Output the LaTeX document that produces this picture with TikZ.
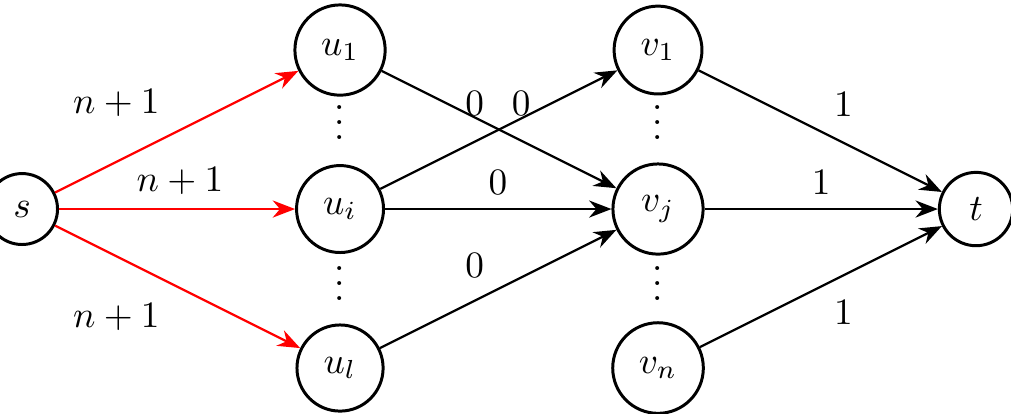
\documentclass[tikz,border=0pt]{standalone}
\usetikzlibrary{arrows.meta}
\begin{document}
\begin{tikzpicture}[
  vtx/.style={circle,draw,thick,inner sep=4.5pt},
  arc/.style={semithick,-{Stealth[length=6pt,width=4.6pt]}},
  redarc/.style={arc,red},
  lbl/.style={inner sep=0pt},
  dots/.style={inner sep=0pt}
]
\useasboundingbox (-0.208,-1.925) rectangle (9.33,1.972);
\node[vtx] (s) at (0,0) {$s$};
\node[vtx] (u1) at (3,1.5) {$u_1$};
\node[vtx] (ui) at (3,0) {$u_i$};
\node[vtx] (ul) at (3,-1.5) {$u_l$};
\node[vtx] (v1) at (6,1.5) {$v_1$};
\node[vtx] (vj) at (6,0) {$v_j$};
\node[vtx] (vn) at (6,-1.5) {$v_n$};
\node[vtx] (t) at (9,0) {$t$};
\node[dots] (d1) at (3,0.92) {$\vdots$};
\node[dots] (d2) at (3,-0.6) {$\vdots$};
\node[dots] (d3) at (6,0.92) {$\vdots$};
\node[dots] (d4) at (6,-0.6) {$\vdots$};
\draw[redarc] (s) -- (u1);
\draw[redarc] (s) -- (ui);
\draw[redarc] (s) -- (ul);
\draw[arc] (u1) -- (vj);
\draw[arc] (ui) -- (v1);
\draw[arc] (ui) -- (vj);
\draw[arc] (ul) -- (vj);
\draw[arc] (v1) -- (t);
\draw[arc] (vj) -- (t);
\draw[arc] (vn) -- (t);
\node[lbl] (a1) at (0.89,1.0) {$n+1$};
\node[lbl] (a2) at (1.49,0.26) {$n+1$};
\node[lbl] (a3) at (0.89,-1.02) {$n+1$};
\node[lbl] (b1) at (4.27,1.0) {$0$};
\node[lbl] (b2) at (4.71,1.0) {$0$};
\node[lbl] (b3) at (4.49,0.25) {$0$};
\node[lbl] (b4) at (4.27,-0.53) {$0$};
\node[lbl] (c1) at (7.75,0.99) {$1$};
\node[lbl] (c2) at (7.54,0.25) {$1$};
\node[lbl] (c3) at (7.75,-0.98) {$1$};
\end{tikzpicture}
\end{document}
